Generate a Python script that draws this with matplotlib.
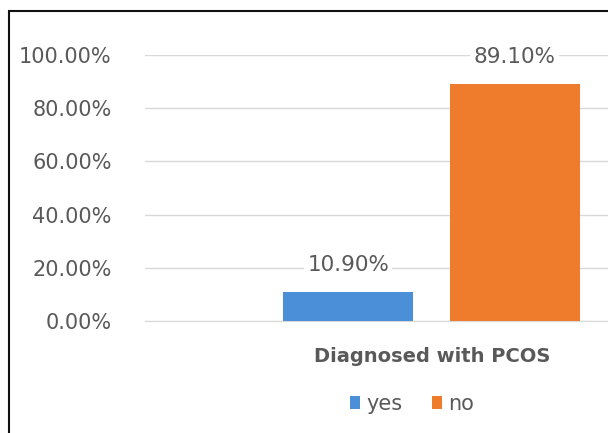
import matplotlib.pyplot as plt
from matplotlib.patches import Rectangle
from matplotlib.ticker import FuncFormatter

# Data
category = "Diagnosed with PCOS"
answers = ["yes", "no"]
shares = [0.109, 0.891]
colors = ["#4A8FD8", "#EF7B2D"]

text_color = "#595959"
grid_color = "#D9D9D9"
plt.rcParams['font.family'] = ['DejaVu Sans']

fig = plt.figure(figsize=(6.08, 4.33), dpi=100)
W, H = 608, 433
# plot area runs past the right edge of the figure
ax = fig.add_axes([145 / W, 1 - 321 / H, 574 / W, (321 - 55) / H])

offsets = [-0.146, 0.144]
bar_w = 0.226
for name, val, col, off in zip(answers, shares, colors, offsets):
    ax.bar(off, val, width=bar_w, color=col, label=name, zorder=2)
    ax.annotate(f"{val * 100:.2f}%", (off, val), xytext=(0, 19.5),
                textcoords="offset points", ha="center", va="center",
                fontsize=15.5, color=text_color, zorder=3,
                bbox=dict(boxstyle="square,pad=0.15", fc="white", ec="none"),
                annotation_clip=False)

ax.set_xlim(-0.5, 0.5)
ax.set_ylim(0, 1.0)
ax.set_yticks([0, 0.2, 0.4, 0.6, 0.8, 1.0])
ax.yaxis.set_major_formatter(FuncFormatter(lambda v, p: f"{v * 100:.2f}%"))
ax.set_xticks([0])
ax.set_xticklabels([category], fontweight="bold", fontsize=14, color=text_color)
ax.tick_params(axis="x", length=0, pad=19)
ax.tick_params(axis="y", length=0, pad=24, labelsize=15, labelcolor=text_color)
ax.grid(axis="y", color=grid_color, linewidth=1, zorder=0)
for s in ["top", "right", "left"]:
    ax.spines[s].set_visible(False)
ax.spines["bottom"].set_color(grid_color)
ax.spines["bottom"].set_zorder(1)

leg = fig.legend(loc="center", bbox_to_anchor=(412 / W, 1 - 404 / H), ncol=2,
                 frameon=False, fontsize=15, handlelength=0.5, handleheight=0.6,
                 handletextpad=0.3, columnspacing=1.4)
for t in leg.get_texts():
    t.set_color(text_color)

# chart frame, cut at the right and bottom
fig.patches.append(Rectangle((8.5 / W, -0.1), 1.2, 1 - 10.5 / H + 0.1,
                             transform=fig.transFigure, fill=False,
                             ec="#111111", lw=1.5))

fig.savefig("out.png", dpi=100)
